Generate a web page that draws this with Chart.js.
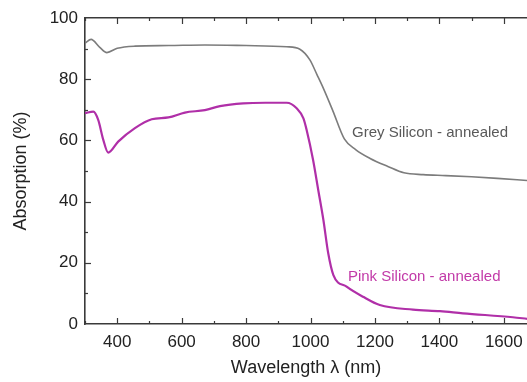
<!DOCTYPE html>
<html lang="en">
<head>
  <meta charset="UTF-8" />
  <title>Absorption spectra</title>
  <script src="https://cdn.jsdelivr.net/npm/chart.js"></script>
  <style>
    body { margin: 0; background: #fff; }
    #wrap { width: 527px; height: 382px; position: relative; }
  </style>
</head>
<body>
  <div id="wrap"><canvas id="absChart"></canvas></div>

  <script>
    // values (wavelength in nm, absorption in %)
    const greyWavelength = [300, 319, 345, 368, 400, 455, 560, 672, 800, 926, 967, 998, 1020, 1040, 1070, 1105, 1140, 1185, 1240, 1290, 1350, 1420, 1500, 1580, 1672];
    const greyAbsorption = [91.8, 93.0, 90.5, 88.7, 90.1, 90.8, 91.0, 91.2, 91.0, 90.6, 89.8, 86.3, 81.5, 77.0, 69.5, 60.5, 57.0, 54.1, 51.5, 49.4, 48.8, 48.5, 48.1, 47.6, 46.9];

    const pinkWavelength = [300, 326, 341, 357, 372, 403, 455, 507, 559, 610, 672, 719, 791, 860, 926, 957, 978, 988, 1008, 1024, 1040, 1055, 1071, 1112, 1163, 1215, 1318, 1402, 1473, 1628, 1672];
    const pinkAbsorption = [68.9, 69.4, 66.7, 60.1, 56.0, 59.6, 64.0, 66.9, 67.5, 69.1, 69.9, 71.2, 72.1, 72.3, 72.3, 70.5, 67.2, 63.4, 53.6, 43.8, 34.0, 23.1, 16.0, 12.2, 8.9, 6.2, 4.7, 4.2, 3.5, 2.2, 1.7];

    const seriesNames = ["Grey Silicon - annealed", "Pink Silicon - annealed"];
    // label anchors in data units (left edge, vertical centre)
    const labelAnchors = [[1129, 62.4], [1116, 15.4]];

    const greyColor = "#7c7c7c";
    const pinkColor = "#b02fa8";
    const axisColor = "#3a3a3a";

    const toPoints = (xs, ys) => xs.map((x, i) => ({ x: x, y: ys[i] }));

    // small inward ticks like the original plot
    const inwardTicks = {
      id: "inwardTicks",
      afterDraw(chart) {
        const ctx = chart.ctx;
        const area = chart.chartArea;
        ctx.save();
        ctx.strokeStyle = axisColor;
        ctx.lineWidth = 1.2;
        ["x", "x2"].forEach(id => {
          const s = chart.scales[id];
          s.ticks.forEach(t => {
            if (t.value % 100 !== 0) return;
            const len = t.value % 200 === 0 ? 6 : 3;
            const px = Math.round(s.getPixelForValue(t.value)) + 0.5;
            ctx.beginPath();
            if (id === "x") {
              ctx.moveTo(px, area.bottom);
              ctx.lineTo(px, area.bottom - len);
            } else {
              ctx.moveTo(px, area.top);
              ctx.lineTo(px, area.top + len);
            }
            ctx.stroke();
          });
        });
        const ys = chart.scales.y;
        ys.ticks.forEach(t => {
          if (t.value % 10 !== 0 || t.value === 0 || t.value === 100) return;
          const len = t.value % 20 === 0 ? 6 : 3;
          const py = Math.round(ys.getPixelForValue(t.value)) + 0.5;
          ctx.beginPath();
          ctx.moveTo(area.left, py);
          ctx.lineTo(area.left + len, py);
          ctx.stroke();
        });
        ctx.restore();
      }
    };

    const curveLabels = {
      id: "curveLabels",
      afterDatasetsDraw(chart) {
        const ctx = chart.ctx;
        const xs = chart.scales.x, ys = chart.scales.y;
        ctx.save();
        ctx.font = "15px 'Liberation Sans', Arial, sans-serif";
        ctx.textAlign = "left";
        ctx.textBaseline = "middle";
        const colors = ["#595959", "#c23aa8"];
        seriesNames.forEach((name, i) => {
          ctx.fillStyle = colors[i];
          ctx.fillText(name, xs.getPixelForValue(labelAnchors[i][0]), ys.getPixelForValue(labelAnchors[i][1]));
        });
        ctx.restore();
      }
    };

    const tickFont = { family: "'Liberation Sans', Arial, sans-serif", size: 17 };
    const titleFont = { family: "'Liberation Sans', Arial, sans-serif", size: 18 };

    new Chart(document.getElementById("absChart"), {
      type: "line",
      data: {
        datasets: [
          {
            label: seriesNames[0],
            data: toPoints(greyWavelength, greyAbsorption),
            borderColor: greyColor,
            borderWidth: 1.6,
            pointRadius: 0,
            cubicInterpolationMode: "monotone",
            fill: false
          },
          {
            label: seriesNames[1],
            data: toPoints(pinkWavelength, pinkAbsorption),
            borderColor: pinkColor,
            borderWidth: 2.2,
            pointRadius: 0,
            cubicInterpolationMode: "monotone",
            fill: false
          }
        ]
      },
      options: {
        responsive: true,
        maintainAspectRatio: false,
        animation: false,
        layout: { padding: 0 },
        plugins: { legend: { display: false }, tooltip: { enabled: false } },
        scales: {
          x: {
            type: "linear",
            position: "bottom",
            min: 300,
            max: 1672,
            afterFit: s => { s.height = 58; s.paddingLeft = 0; s.paddingRight = 0; },
            grid: { display: false, drawTicks: false },
            border: { display: true, color: axisColor, width: 1.6 },
            ticks: {
              stepSize: 100,
              includeBounds: false,
              padding: 8,
              color: "#222",
              font: tickFont,
              maxRotation: 0,
              autoSkip: false,
              callback: v => (v % 200 === 0 ? v : "")
            },
            title: {
              display: true,
              text: "Wavelength λ (nm)",
              color: "#222",
              font: titleFont,
              padding: { top: 0, bottom: 3 }
            }
          },
          x2: {
            type: "linear",
            position: "top",
            min: 300,
            max: 1672,
            afterFit: s => { s.height = 18; s.paddingLeft = 0; s.paddingRight = 0; },
            grid: { display: false, drawTicks: false },
            border: { display: true, color: axisColor, width: 1.6 },
            ticks: { stepSize: 100, includeBounds: false, display: false }
          },
          y: {
            min: 0,
            max: 100,
            afterFit: s => { s.width = 85; },
            grid: { display: false, drawTicks: false },
            border: { display: true, color: axisColor, width: 1.6 },
            ticks: {
              stepSize: 10,
              padding: 7,
              color: "#222",
              font: tickFont,
              autoSkip: false,
              callback: v => (v % 20 === 0 ? v : "")
            },
            title: {
              display: true,
              text: "Absorption (%)",
              color: "#222",
              font: titleFont,
              padding: { top: 10, bottom: 0 }
            }
          }
        }
      },
      plugins: [inwardTicks, curveLabels]
    });
  </script>
</body>
</html>
